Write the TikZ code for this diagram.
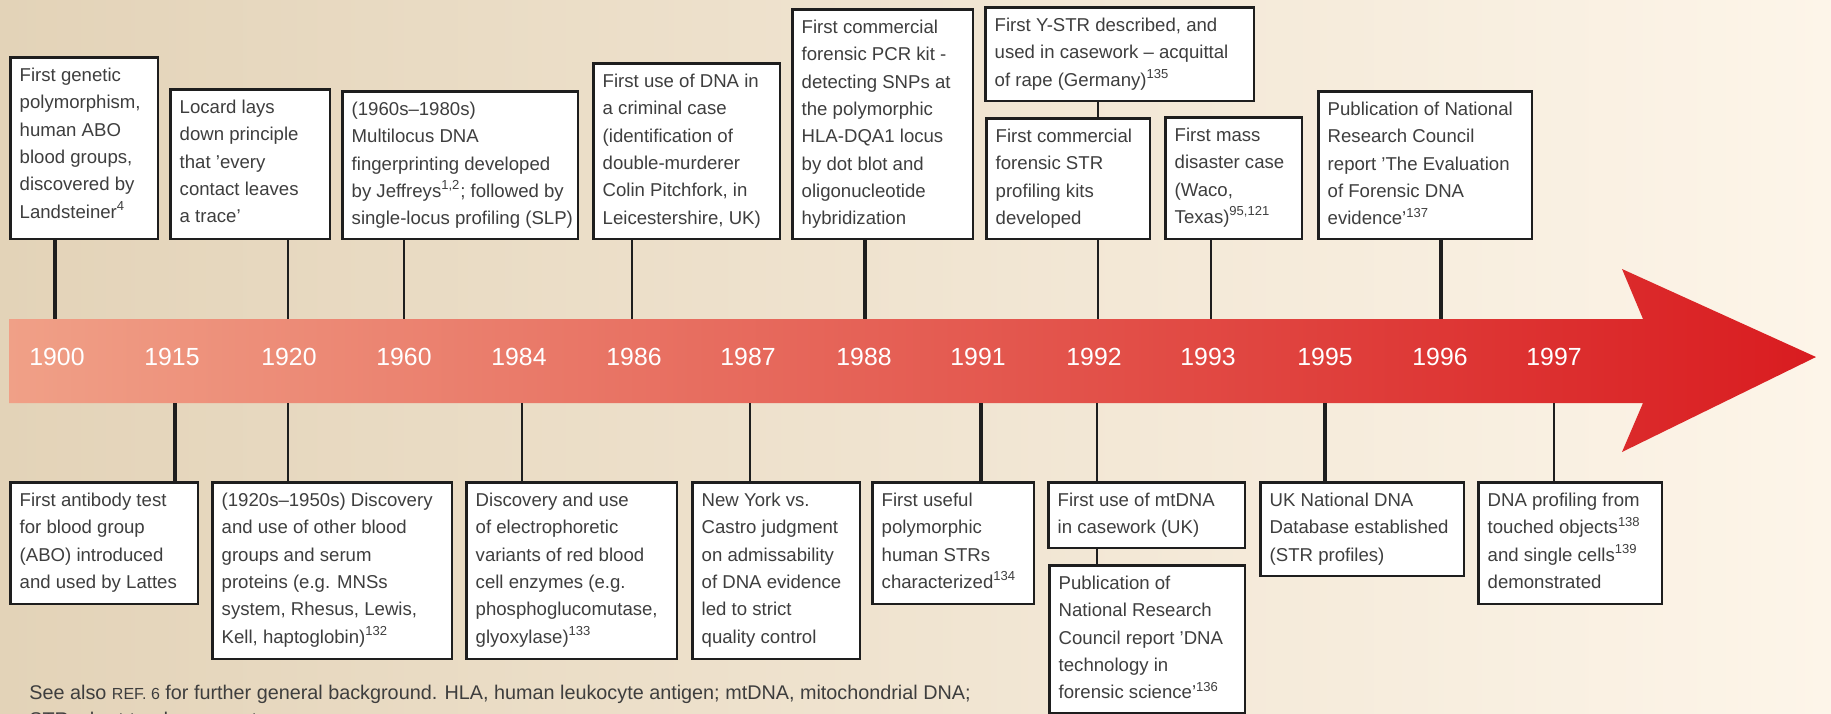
\documentclass[tikz,border=0pt]{standalone}
\usepackage{fontspec}
\setmainfont{Liberation Sans}
\definecolor{bgL}{RGB}{227,211,184}
\definecolor{bgR}{RGB}{253,245,233}
\definecolor{barL}{RGB}{240,160,135}
\definecolor{barR}{RGB}{217,28,32}
\definecolor{ink}{RGB}{62,62,62}
\definecolor{edge}{RGB}{30,30,30}
\newlength\evtx \setlength\evtx{4.4pt}
\newlength\evty \setlength\evty{2.3pt}
\newcommand\evfont{\fontsize{9.3pt}{13.65pt}\selectfont}
\newcommand\capfont{\fontsize{9.9pt}{13.65pt}\selectfont}
\newcommand\yrfont{\fontsize{12.4pt}{14pt}\selectfont}
\newcommand\reffont{\fontsize{8pt}{9pt}\selectfont}
\tikzset{
  evtbox/.style={draw=edge, fill=white, line width=1.45pt, inner xsep=\evtx, inner ysep=\evty, anchor=north west, text=ink, font=\evfont},
  stemthin/.style={draw=edge, line width=1pt},
  stemthick/.style={draw=edge, line width=1.6pt},
  yearlbl/.style={text=white, font=\yrfont, inner sep=0pt},
  captxt/.style={text=ink, font=\capfont, inner sep=0pt, anchor=base west},
}
\newcommand\evnode[6]{%
  \pgfmathsetmacro\evw{(#4-#2)*0.5-1.45}%
  \pgfmathsetmacro\evh{(#5-#3)*0.5-1.45}%
  \node[evtbox, minimum width=\evw pt, minimum height=\evh pt] (#1) at (#2+1.45,#3+1.45)
    {\parbox[c][\dimexpr\evh pt-2\evty\relax][t]{\dimexpr\evw pt-2\evtx\relax}{\begin{tabular}[t]{@{}l@{}}#6\end{tabular}}};
}
\begin{document}
\begin{tikzpicture}[x=0.5pt,y=-0.5pt]
% background
\shade[left color=bgL, right color=bgR] (0,0) rectangle (1831,713);
\useasboundingbox (0,0) rectangle (1831,713);
% timeline arrow
\shade[left color=barL, right color=barR]
  (9,319) -- (1643,319) -- (1622,269) -- (1816,357) -- (1622,452) -- (1643,403) -- (9,403) -- cycle;
% stem end points on the bar
\coordinate (t1900) at (55,319);
\coordinate (t1920) at (288,319);
\coordinate (t1960) at (404,319);
\coordinate (t1986) at (632,319);
\coordinate (t1988) at (865,319);
\coordinate (t1992) at (1098,319);
\coordinate (t1993) at (1211,319);
\coordinate (t1996) at (1441,319);
\coordinate (u1915) at (175,403);
\coordinate (u1920) at (288,403);
\coordinate (u1984) at (522,403);
\coordinate (u1987) at (750,403);
\coordinate (u1991) at (981,403);
\coordinate (u1992) at (1097,403);
\coordinate (u1995) at (1325,403);
\coordinate (u1997) at (1554,403);
% top events
\evnode{b1900}{8}{55}{158}{239}{First genetic\\polymorphism,\\human ABO\\blood groups,\\discovered by\\Landsteiner\textsuperscript{4}}
\evnode{b1920t}{168}{87}{330}{239}{Locard lays\\down principle\\that ’every\\contact leaves\\a trace’}
\evnode{b1960}{340}{89}{578}{239}{(1960s–1980s)\\Multilocus DNA\\fingerprinting developed\\by Jeffreys\textsuperscript{1,2}; followed by\\single-locus profiling (SLP)}
\evnode{b1986}{591}{61}{780}{239}{First use of DNA in\\a criminal case\\(identification of\\double-murderer\\Colin Pitchfork, in\\Leicestershire, UK)}
\evnode{b1988}{790}{7}{973}{239}{First commercial\\forensic PCR kit -\\detecting SNPs at\\the polymorphic\\HLA-DQA1 locus\\by dot blot and\\oligonucleotide\\hybridization}
\evnode{bYSTR}{983}{5}{1254}{101}{First Y-STR described, and\\used in casework – acquittal\\of rape (Germany)\textsuperscript{135}}
\evnode{b1992t}{984}{116}{1150}{239}{First commercial\\forensic STR\\profiling kits\\developed}
\evnode{b1993}{1163}{115}{1302}{239}{First mass\\disaster case\\(Waco,\\Texas)\textsuperscript{95,121}}
\evnode{b1996}{1316}{89}{1532}{239}{Publication of National\\Research Council\\report ’The Evaluation\\of Forensic DNA\\evidence’\textsuperscript{137}}
% bottom events
\evnode{b1915}{8}{480}{198}{604}{First antibody test\\for blood group\\(ABO) introduced\\and used by Lattes}
\evnode{b1920b}{210}{480}{452}{659}{(1920s–1950s) Discovery\\and use of other blood\\groups and serum\\proteins (e.g. MNSs\\system, Rhesus, Lewis,\\Kell, haptoglobin)\textsuperscript{132}}
\evnode{b1984}{464}{480}{677}{659}{Discovery and use\\of electrophoretic\\variants of red blood\\cell enzymes (e.g.\\phosphoglucomutase,\\glyoxylase)\textsuperscript{133}}
\evnode{b1987}{690}{480}{860}{659}{New York vs.\\Castro judgment\\on admissability\\of DNA evidence\\led to strict\\quality control}
\evnode{b1991}{870}{480}{1034}{604}{First useful\\polymorphic\\human STRs\\characterized\textsuperscript{134}}
\evnode{b1992m}{1046}{480}{1245}{548}{First use of mtDNA\\in casework (UK)}
\evnode{b1992n}{1047}{563}{1245}{713}{Publication of\\National Research\\Council report ’DNA\\technology in\\forensic science’\textsuperscript{136}}
\evnode{b1995}{1258}{480}{1464}{576}{UK National DNA\\Database established\\(STR profiles)}
\evnode{b1997}{1476}{480}{1662}{604}{DNA profiling from\\touched objects\textsuperscript{138}\\and single cells\textsuperscript{139}\\demonstrated}
% stems
\draw[stemthick] (b1900.south -| t1900) -- (t1900);
\draw[stemthin]  (b1920t.south -| t1920) -- (t1920);
\draw[stemthin]  (b1960.south -| t1960) -- (t1960);
\draw[stemthin]  (b1986.south -| t1986) -- (t1986);
\draw[stemthick] (b1988.south -| t1988) -- (t1988);
\draw[stemthin]  (b1992t.south -| t1992) -- (t1992);
\draw[stemthin]  (b1993.south -| t1993) -- (t1993);
\draw[stemthick] (b1996.south -| t1996) -- (t1996);
\draw[stemthin]  (bYSTR.south -| t1992) -- (b1992t.north -| t1992);
\draw[stemthick] (u1915) -- (u1915 |- b1915.north);
\draw[stemthin]  (u1920) -- (u1920 |- b1920b.north);
\draw[stemthin]  (u1984) -- (u1984 |- b1984.north);
\draw[stemthin]  (u1987) -- (u1987 |- b1987.north);
\draw[stemthick] (u1991) -- (u1991 |- b1991.north);
\draw[stemthin]  (u1992) -- (u1992 |- b1992m.north);
\draw[stemthick] (u1995) -- (u1995 |- b1995.north);
\draw[stemthin]  (u1997) -- (u1997 |- b1997.north);
\draw[stemthin]  (b1992m.south -| u1992) -- (b1992n.north -| u1992);
% year labels
\node[yearlbl] (y1900) at (57,357) {1900};
\node[yearlbl] (y1915) at (172,357) {1915};
\node[yearlbl] (y1920) at (289,357) {1920};
\node[yearlbl] (y1960) at (404,357) {1960};
\node[yearlbl] (y1984) at (519,357) {1984};
\node[yearlbl] (y1986) at (634,357) {1986};
\node[yearlbl] (y1987) at (748,357) {1987};
\node[yearlbl] (y1988) at (864,357) {1988};
\node[yearlbl] (y1991) at (978,357) {1991};
\node[yearlbl] (y1992) at (1094,357) {1992};
\node[yearlbl] (y1993) at (1208,357) {1993};
\node[yearlbl] (y1995) at (1325,357) {1995};
\node[yearlbl] (y1996) at (1440,357) {1996};
\node[yearlbl] (y1997) at (1554,357) {1997};
% caption
\node[captxt] (cap1) at (29,699) {See also {\reffont REF. 6} for further general background. HLA, human leukocyte antigen; mtDNA, mitochondrial DNA;};
\node[captxt] (cap2) at (29,726) {STR, short tandem repeat.};
\end{tikzpicture}
\end{document}
